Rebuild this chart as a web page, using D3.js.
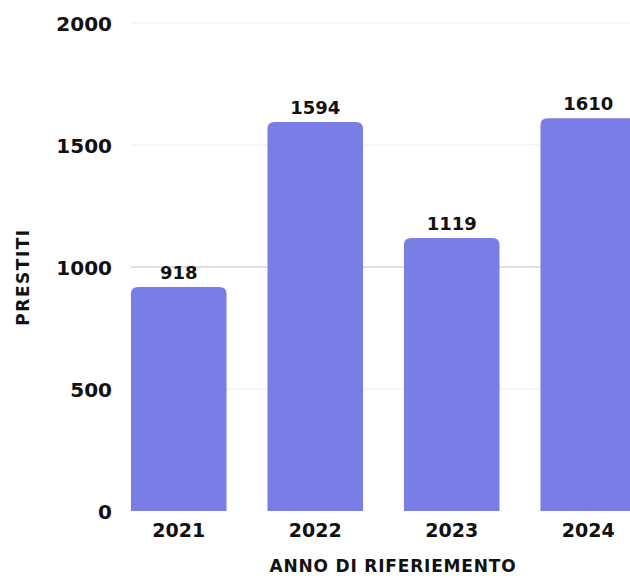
<!DOCTYPE html>
<html><head><meta charset="utf-8">
<script src="https://cdn.jsdelivr.net/npm/d3@7"></script>
<style>
html,body{margin:0;padding:0;background:#fff;overflow:hidden;}
text{font-family:"DejaVu Sans",sans-serif;font-weight:bold;fill:#111;}
</style></head>
<body>
<svg id="c" width="630" height="578"></svg>
<script>
const categories = ["2021","2022","2023","2024"];
const values = [918,1594,1119,1610];
const yTicks = [0,500,1000,1500,2000];
const yTitle = "PRESTITI";
const xTitle = "ANNO DI RIFERIEMENTO";

const svg = d3.select("#c");
const x = d3.scaleBand().domain(categories).range([131,636]).paddingInner(0.3).paddingOuter(0);
const y = d3.scaleLinear().domain([0,2000]).range([511,23]);

// grid
svg.append("g").selectAll("line").data(yTicks.filter(t=>t>0)).join("line")
  .attr("x1",131).attr("x2",630)
  .attr("y1",d=>y(d)).attr("y2",d=>y(d))
  .attr("stroke",d=>d===1000?"#d6d6d6":"#f3f3f3").attr("stroke-width",1.5);

// y axis labels
const yAxis = d3.axisLeft(y).tickValues(yTicks).tickSize(0).tickPadding(0).tickFormat(d3.format("d"));
const ya = svg.append("g").attr("transform","translate(112,0)").call(yAxis);
ya.select(".domain").remove();
ya.selectAll("text").attr("font-size",20).attr("dy","0.35em").style("font-family","DejaVu Sans").style("font-weight","bold").attr("fill","#111");

// bars with rounded top corners
const r = 7;
svg.append("g").selectAll("path").data(categories).join("path")
  .attr("fill","#7b7de6")
  .attr("d",(c,i)=>{
    const x0=x(c), w=x.bandwidth(), y0=y(values[i]), yb=y(0);
    return `M${x0},${yb}V${y0+r}Q${x0},${y0} ${x0+r},${y0}H${x0+w-r}Q${x0+w},${y0} ${x0+w},${y0+r}V${yb}Z`;
  });

// value labels
svg.append("g").selectAll("text").data(categories).join("text")
  .attr("x",c=>x(c)+x.bandwidth()/2).attr("y",(c,i)=>y(values[i])-8)
  .attr("text-anchor","middle").attr("font-size",18)
  .text((c,i)=>values[i]);

// x axis labels
const xAxis = d3.axisBottom(x).tickSize(0).tickPadding(0);
const xa = svg.append("g").attr("transform","translate(0,523)").call(xAxis);
xa.select(".domain").remove();
xa.selectAll("text").attr("font-size",19).attr("dy","0.71em").style("font-family","DejaVu Sans").style("font-weight","bold").attr("fill","#111");

// axis titles
svg.append("text").attr("x",393).attr("y",572).attr("text-anchor","middle").attr("font-size",17).attr("letter-spacing","0.8").text(xTitle);
svg.append("text").attr("transform","translate(29,277) rotate(-90)").attr("text-anchor","middle").attr("font-size",17).attr("letter-spacing","1.5").text(yTitle);
</script>
</body></html>
